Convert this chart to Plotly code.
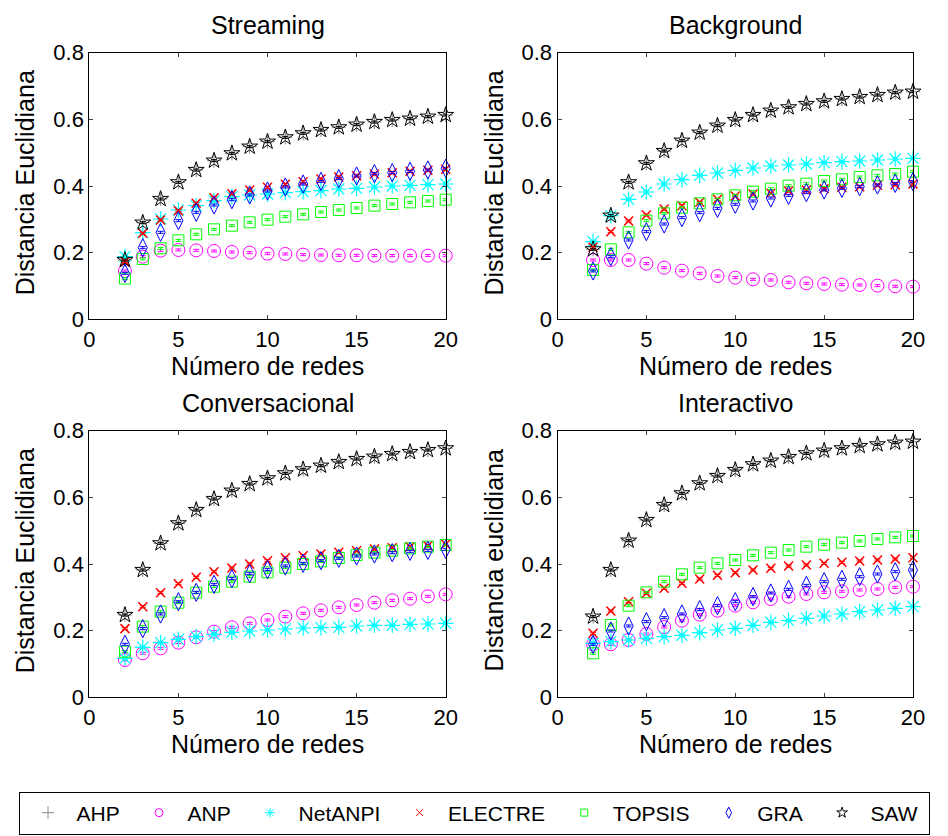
import plotly.graph_objects as go

redes = list(range(2, 21))

# ---- Streaming ----
st_anp = [0.145, 0.188, 0.206, 0.208, 0.207, 0.205, 0.202, 0.200, 0.197, 0.196, 0.194, 0.193, 0.192, 0.192, 0.191, 0.191, 0.191, 0.191, 0.191]
st_netanpi = [0.188, 0.260, 0.301, 0.328, 0.341, 0.356, 0.368, 0.373, 0.376, 0.380, 0.383, 0.386, 0.391, 0.393, 0.397, 0.400, 0.402, 0.404, 0.406]
st_electre = [0.173, 0.258, 0.298, 0.326, 0.348, 0.365, 0.377, 0.388, 0.396, 0.405, 0.413, 0.421, 0.427, 0.431, 0.436, 0.440, 0.444, 0.447, 0.450]
st_topsis = [0.122, 0.181, 0.213, 0.237, 0.255, 0.270, 0.281, 0.291, 0.299, 0.308, 0.315, 0.322, 0.328, 0.334, 0.341, 0.346, 0.351, 0.355, 0.359]
st_gra = [0.138, 0.215, 0.261, 0.296, 0.321, 0.343, 0.359, 0.373, 0.385, 0.397, 0.406, 0.414, 0.422, 0.430, 0.437, 0.440, 0.444, 0.448, 0.453]
st_saw = [0.178, 0.290, 0.361, 0.411, 0.448, 0.476, 0.498, 0.518, 0.533, 0.546, 0.558, 0.568, 0.576, 0.584, 0.592, 0.598, 0.602, 0.608, 0.613]
st_ahp = [0.178, 0.290, 0.361, 0.411, 0.448, 0.476, 0.498, 0.518, 0.533, 0.546, 0.558, 0.568, 0.576, 0.584, 0.592, 0.598, 0.602, 0.608, 0.613]

# ---- Background ----
bg_anp = [0.178, 0.178, 0.178, 0.167, 0.155, 0.146, 0.138, 0.130, 0.125, 0.120, 0.118, 0.111, 0.108, 0.106, 0.104, 0.103, 0.101, 0.099, 0.098]
bg_netanpi = [0.233, 0.311, 0.360, 0.382, 0.406, 0.419, 0.432, 0.439, 0.447, 0.454, 0.460, 0.463, 0.466, 0.470, 0.473, 0.475, 0.478, 0.481, 0.483]
bg_electre = [0.216, 0.263, 0.295, 0.313, 0.331, 0.341, 0.351, 0.360, 0.370, 0.376, 0.378, 0.385, 0.388, 0.392, 0.396, 0.398, 0.402, 0.404, 0.406]
bg_topsis = [0.148, 0.210, 0.261, 0.296, 0.318, 0.335, 0.348, 0.360, 0.372, 0.383, 0.392, 0.401, 0.407, 0.415, 0.420, 0.427, 0.432, 0.436, 0.443]
bg_gra = [0.145, 0.188, 0.238, 0.263, 0.286, 0.305, 0.320, 0.333, 0.345, 0.355, 0.364, 0.372, 0.380, 0.388, 0.393, 0.398, 0.403, 0.408, 0.413]
bg_saw = [0.210, 0.311, 0.411, 0.468, 0.505, 0.536, 0.560, 0.581, 0.598, 0.613, 0.626, 0.636, 0.646, 0.654, 0.661, 0.667, 0.673, 0.680, 0.683]
bg_ahp = [0.210, 0.311, 0.411, 0.468, 0.505, 0.536, 0.560, 0.581, 0.598, 0.613, 0.626, 0.636, 0.646, 0.654, 0.661, 0.667, 0.673, 0.680, 0.683]

# ---- Conversacional ----
cv_anp = [0.112, 0.132, 0.147, 0.164, 0.180, 0.197, 0.210, 0.222, 0.232, 0.242, 0.252, 0.261, 0.270, 0.277, 0.284, 0.291, 0.296, 0.303, 0.309]
cv_netanpi = [0.117, 0.150, 0.164, 0.174, 0.182, 0.189, 0.195, 0.199, 0.202, 0.205, 0.208, 0.209, 0.210, 0.214, 0.216, 0.216, 0.219, 0.220, 0.222]
cv_electre = [0.206, 0.272, 0.314, 0.341, 0.360, 0.377, 0.388, 0.400, 0.410, 0.419, 0.425, 0.430, 0.435, 0.440, 0.445, 0.449, 0.452, 0.455, 0.459]
cv_topsis = [0.137, 0.212, 0.257, 0.284, 0.314, 0.332, 0.347, 0.362, 0.375, 0.389, 0.400, 0.408, 0.418, 0.427, 0.434, 0.440, 0.447, 0.452, 0.457]
cv_gra = [0.159, 0.206, 0.250, 0.287, 0.315, 0.339, 0.356, 0.371, 0.383, 0.394, 0.402, 0.410, 0.417, 0.424, 0.430, 0.434, 0.438, 0.441, 0.444]
cv_saw = [0.247, 0.382, 0.462, 0.522, 0.562, 0.595, 0.620, 0.640, 0.657, 0.672, 0.684, 0.695, 0.706, 0.715, 0.722, 0.730, 0.736, 0.742, 0.747]
cv_ahp = [0.247, 0.382, 0.462, 0.522, 0.562, 0.595, 0.620, 0.640, 0.657, 0.672, 0.684, 0.695, 0.706, 0.715, 0.722, 0.730, 0.736, 0.742, 0.747]

# ---- Interactivo ----
it_anp = [0.159, 0.159, 0.172, 0.190, 0.211, 0.230, 0.248, 0.260, 0.275, 0.285, 0.295, 0.302, 0.310, 0.315, 0.318, 0.322, 0.325, 0.330, 0.332]
it_netanpi = [0.162, 0.167, 0.172, 0.177, 0.182, 0.186, 0.194, 0.202, 0.207, 0.216, 0.225, 0.230, 0.237, 0.244, 0.250, 0.257, 0.262, 0.267, 0.272]
it_electre = [0.192, 0.259, 0.287, 0.312, 0.327, 0.342, 0.355, 0.366, 0.374, 0.382, 0.387, 0.394, 0.397, 0.402, 0.405, 0.409, 0.412, 0.415, 0.419]
it_topsis = [0.132, 0.217, 0.275, 0.315, 0.347, 0.369, 0.389, 0.402, 0.412, 0.426, 0.434, 0.442, 0.452, 0.458, 0.464, 0.469, 0.475, 0.480, 0.484]
it_gra = [0.159, 0.199, 0.214, 0.227, 0.239, 0.250, 0.263, 0.275, 0.287, 0.302, 0.313, 0.324, 0.336, 0.347, 0.354, 0.362, 0.370, 0.377, 0.382]
it_saw = [0.242, 0.382, 0.470, 0.532, 0.577, 0.612, 0.642, 0.664, 0.682, 0.699, 0.710, 0.721, 0.732, 0.740, 0.747, 0.754, 0.759, 0.764, 0.767]
it_ahp = [0.242, 0.382, 0.470, 0.532, 0.577, 0.612, 0.642, 0.664, 0.682, 0.699, 0.710, 0.721, 0.732, 0.740, 0.747, 0.754, 0.759, 0.764, 0.767]

methods = ["AHP", "ANP", "NetANPI", "ELECTRE", "TOPSIS", "GRA", "SAW"]
panels = [
    ("Streaming", "Distancia Euclidiana", [st_ahp, st_anp, st_netanpi, st_electre, st_topsis, st_gra, st_saw]),
    ("Background", "Distancia Euclidiana", [bg_ahp, bg_anp, bg_netanpi, bg_electre, bg_topsis, bg_gra, bg_saw]),
    ("Conversacional", "Distancia Euclidiana", [cv_ahp, cv_anp, cv_netanpi, cv_electre, cv_topsis, cv_gra, cv_saw]),
    ("Interactivo", "Distancia euclidiana", [it_ahp, it_anp, it_netanpi, it_electre, it_topsis, it_gra, it_saw]),
]
x_ticks = [0, 5, 10, 15, 20]
y_ticks = [0, 0.2, 0.4, 0.6, 0.8]
y_ticklabels = ["0", "0.2", "0.4", "0.6", "0.8"]

styles = {
    "AHP": dict(symbol="cross-thin-open", color="#8c8c8c", size=10, lw=1, leg=9),
    "ANP": dict(symbol="circle-open", color="#ff00ff", size=13, lw=1, leg=8),
    "NetANPI": dict(symbol="asterisk-open", color="#00ffff", size=13, lw=1.2, leg=8),
    "ELECTRE": dict(symbol="x-thin-open", color="#ff0000", size=9, lw=1.5, leg=7),
    "TOPSIS": dict(symbol="square-open", color="#00ff00", size=11, lw=1, leg=7),
    "GRA": dict(symbol="diamond-tall-open", color="#0000ff", size=13, lw=1, leg=8),
    "SAW": dict(symbol="star-open", color="#000000", size=12, lw=1, leg=8),
}

FONT = "Liberation Sans, Arial, sans-serif"
W, H = 948, 836
px_x = [(89.3, 445.7), (557.5, 913.0), (89.3, 445.7), (557.5, 913.0)]
px_y = [(52.7, 319.3), (52.7, 319.3), (430.7, 697.3), (430.7, 697.3)]

fig = go.Figure()
annotations = []
for i, (title, ylab, series) in enumerate(panels):
    xa = "x" if i == 0 else f"x{i+1}"
    ya = "y" if i == 0 else f"y{i+1}"
    for name, vals in zip(methods, series):
        s = styles[name]
        fig.add_trace(go.Scatter(
            x=redes, y=vals, mode="markers", name=name, showlegend=False,
            xaxis=xa, yaxis=ya, cliponaxis=False,
            marker=dict(symbol=s["symbol"], size=s["size"], color=s["color"],
                        line=dict(color=s["color"], width=s["lw"])),
            error_y=dict(type="constant", value=0.003, color=s["color"],
                         thickness=1, width=3),
        ))
    x0, x1 = px_x[i]
    y0, y1 = px_y[i]
    dom_x = [x0 / W, x1 / W]
    dom_y = [1 - y1 / H, 1 - y0 / H]
    axx = dict(domain=dom_x, range=[0, 20], tickvals=x_ticks, ticks="inside", ticklen=4,
               showline=True, linecolor="black", linewidth=1, mirror="ticks",
               showgrid=False, zeroline=False, anchor=ya,
               tickfont=dict(family=FONT, size=22, color="black"))
    axy = dict(domain=dom_y, range=[0, 0.8], tickvals=y_ticks, ticktext=y_ticklabels,
               ticks="inside", ticklen=4, showline=True, linecolor="black", linewidth=1,
               mirror="ticks", showgrid=False, zeroline=False, anchor=xa,
               tickfont=dict(family=FONT, size=22, color="black"))
    fig.layout["xaxis" if i == 0 else f"xaxis{i+1}"] = axx
    fig.layout["yaxis" if i == 0 else f"yaxis{i+1}"] = axy
    cx = (x0 + x1) / 2
    annotations.append(dict(text=title, x=cx / W, y=1 - (y0 - 28) / H, xref="paper", yref="paper",
                            showarrow=False, xanchor="center", yanchor="middle",
                            font=dict(family=FONT, size=25, color="black")))
    annotations.append(dict(text="Número de redes", x=cx / W, y=1 - (y1 + 47) / H, xref="paper", yref="paper",
                            showarrow=False, xanchor="center", yanchor="middle",
                            font=dict(family=FONT, size=25, color="black")))
    annotations.append(dict(text=ylab, x=(x0 - 64) / W, y=1 - ((y0 + y1) / 2 - 3) / H, xref="paper", yref="paper",
                            showarrow=False, xanchor="center", yanchor="middle", textangle=-90,
                            font=dict(family=FONT, size=25, color="black")))

# legend-only traces
for name in methods:
    s = styles[name]
    fig.add_trace(go.Scatter(
        x=[None], y=[None], mode="markers", name=name + "\u00a0", showlegend=True,
        marker=dict(symbol=s["symbol"], size=s["leg"], color=s["color"],
                    line=dict(color=s["color"], width=1)),
    ))

fig.update_layout(
    width=W, height=H,
    margin=dict(l=0, r=0, t=0, b=0, autoexpand=False),
    paper_bgcolor="white", plot_bgcolor="white",
    annotations=annotations,
    showlegend=True,
    legend=dict(orientation="h", x=0.5, xanchor="center", y=1 - 813 / H, yanchor="middle",
                bordercolor="black", borderwidth=1, bgcolor="white",
                font=dict(family=FONT, size=21, color="black"),
                itemwidth=47, tracegroupgap=0),
)

fig.write_html("out.html")
